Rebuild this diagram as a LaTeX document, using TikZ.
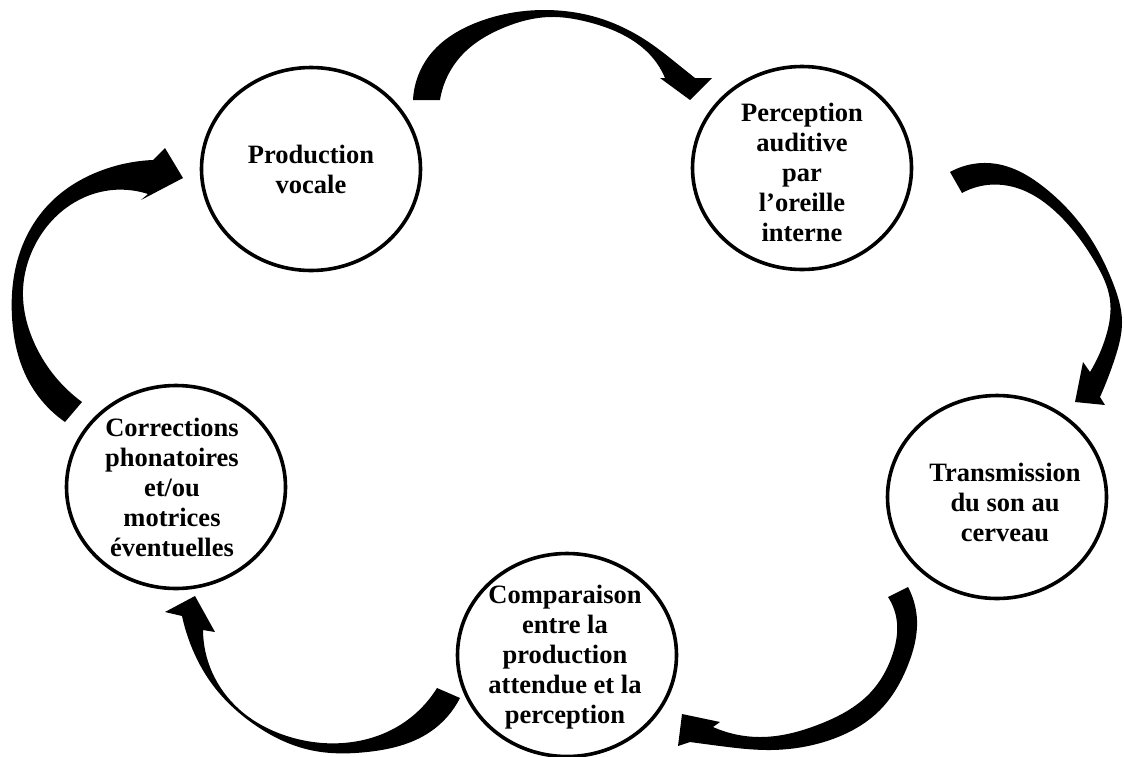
\documentclass[tikz,border=0pt]{standalone}
\usepackage{fontspec}
\setmainfont{Liberation Serif}
\usetikzlibrary{hobby, shapes.geometric}
\def\Wth{3.6pt}
\def\ClrA{black}
\tikzset{
    stage/.style={
        draw=\ClrA, line width=\Wth, ellipse, inner sep=0pt,
        minimum width=219pt, minimum height=203pt
    },
    stage text/.style={
        font=\fontsize{26.5}{30}\selectfont\bfseries,
        align=center, inner sep=0pt
    },
    block arrow/.style={fill=\ClrA, draw=none}
}

\begin{document}
\begin{tikzpicture}[use Hobby shortcut, x=1pt, y=-1pt]
    \useasboundingbox (0,0) rectangle (1124,756);

    \node[stage] (prod)  at (311,169) {};
    \node[stage] (perc)  at (802,168) {};
    \node[stage] (trans) at (997,497) {};
    \node[stage] (comp)  at (567,655) {};
    \node[stage] (corr)  at (176,487) {};

    \node[stage text] (prodT) at (prod) {Production\\vocale};
    \node[stage text, yshift=-4pt] (percT) at (perc) {Perception\\auditive\\par\\l’oreille\\interne};
    \node[stage text, xshift=8pt, yshift=-5pt] (transT) at (trans) {Transmission\\du son au\\cerveau};
    \node[stage text, xshift=-2pt, yshift=-2pt] (compT) at (comp) {Comparaison\\entre la\\production\\attendue et la\\perception};
    \node[stage text, xshift=-4pt] (corrT) at (corr) {Corrections\\phonatoires\\et/ou\\motrices\\éventuelles};

    % production -> perception
    \fill[block arrow] (413,100)..(429,56)..(478,22)..(545,10)..(605,20)..(650,43)..(680,66)..(695,78)
        -- (712,78) -- (690,100) -- (660,78) -- (665,78)
        ..(652,57)..(627,37)..(588,22)..(550,17)..(503,28)..(462,55)..(440,100) -- cycle;
    % perception -> transmission
    \fill[block arrow] (950,172)..(997,164)..(1045,188)..(1087,233)..(1113,283)..(1122,322)..(1115,358)..(1100,397)
        -- (1105,405) -- (1075,402) -- (1083,362) -- (1090,372)
        ..(1106,336)..(1110,300)..(1095,262)..(1058,214)..(1017,188)..(987,185)..(962,193) -- cycle;
    % transmission -> comparaison
    \fill[block arrow] (908,587)..(917,620)..(908,665)..(880,710)..(830,740)..(767,750)..(720,746)..(690,742)
        -- (678,746) -- (682,714) -- (720,722) -- (713,727)
        ..(760,737)..(820,724)..(870,693)..(893,653)..(897,623)..(888,597) -- cycle;
    % comparaison -> corrections
    \fill[block arrow] (460,698)..(430,732)..(367,752)..(310,750)..(255,725)..(212,684)..(190,643)..(182,616)
        -- (165,612) -- (195,596) -- (215,632) -- (203,630)
        ..(212,672)..(240,710)..(290,737)..(343,743)..(395,728)..(437,688) -- cycle;
    % corrections -> production
    \fill[block arrow] (65,422)..(28,380)..(12,317)..(20,252)..(52,201)..(100,171)..(153,160)
        -- (165,148) -- (183,178) -- (141,200) -- (148,194)
        ..(105,191)..(66,208)..(35,245)..(23,290)..(33,340)..(82,402) -- cycle;
\end{tikzpicture}
\end{document}
